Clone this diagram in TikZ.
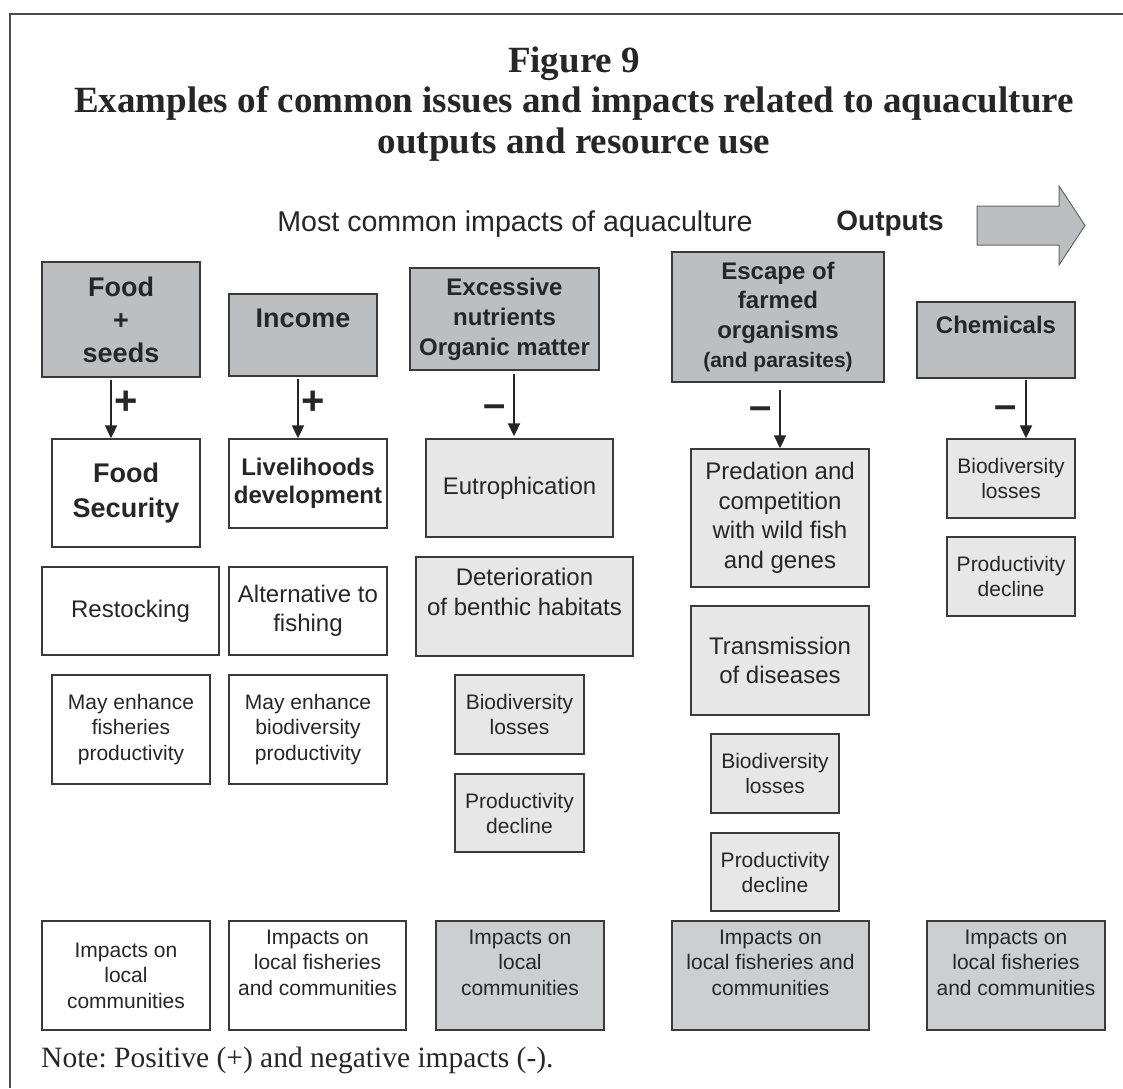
\documentclass[tikz,border=0pt]{standalone}
\usepackage{fontspec}
\setmainfont{Liberation Sans}
\newfontfamily\headserif{Liberation Serif}
\usetikzlibrary{arrows.meta,positioning}
\definecolor{outgray}{HTML}{BDBEC0}
\definecolor{neggray}{HTML}{E7E7E8}
\definecolor{impgray}{HTML}{CDCED0}
\definecolor{edgegray}{HTML}{3A3A3A}
\newcommand{\setfs}[2]{\fontsize{#1}{#2}\selectfont}

\begin{document}
\begin{tikzpicture}[x=1pt, y=-1pt,
    box/.style={draw=edgegray, line width=1.4pt, inner sep=0pt, align=center, text=black!85},
    outbox/.style={box, fill=outgray, font=\bfseries\setfs{24}{30}},
    posbox/.style={box, fill=white, font=\setfs{21}{25.5}},
    negbox/.style={box, fill=neggray, font=\setfs{21}{25}},
    impbox/.style={box, fill=impgray, font=\setfs{21}{25.5}},
    arr/.style={-{Triangle[length=13pt,width=12pt]}, line width=1.9pt, draw=black!85},
    sign/.style={font=\bfseries\setfs{40}{40}, inner sep=0pt, text=black!85}
]
\useasboundingbox (0,0) rectangle (1123,1088);
\draw[line width=2pt, black!70] (10,1088) -- (10,14) -- (1123,14);

% title and header
\node[font=\headserif\bfseries\setfs{37}{40.5}, align=center, text=black!85] (title) at (574,104)
    {Figure 9\\Examples of common issues and impacts related to aquaculture\\outputs and resource use};
\node[font=\setfs{28.6}{30}, text=black!85] (most) at (515,224) {Most common impacts of aquaculture};
\node[font=\bfseries\setfs{28}{30}, text=black!85] (outlbl) at (890,224) {Outputs};
\draw[fill=outgray, draw=black!60, line width=1pt] (977,206) -- (1059,206) -- (1059,186) -- (1085,225.5)
    -- (1059,265) -- (1059,245) -- (977,245) -- cycle;

% outputs
\node[outbox, font=\bfseries\setfs{27}{33}, minimum width=158, minimum height=115] (food) at (121,319.5) {Food\\+\\seeds};
\node[outbox, font=\bfseries\setfs{27}{33}, minimum width=148, minimum height=82] (income) at (303,335) {Income\\{}};
\node[outbox, minimum width=189, minimum height=102] (excess) at (504.5,319) {Excessive\\nutrients\\Organic matter};
\node[outbox, font=\bfseries\setfs{24}{29.5}, minimum width=212, minimum height=130] (escape) at (778,317)
    {Escape of\\farmed\\organisms\\{\setfs{21}{29.5}(and parasites)}};
\node[outbox, minimum width=158, minimum height=76] (chem) at (996,340) {Chemicals\\{}};

% first effects
\node[posbox, font=\bfseries\setfs{27}{35}, minimum width=148, minimum height=108] (fsec) at (126,493) {Food\\Security};
\node[posbox, font=\bfseries\setfs{24}{28}, minimum width=158, minimum height=89] (live) at (308,483.5) {Livelihoods\\development};
\node[negbox, font=\setfs{24}{30}, minimum width=187, minimum height=98] (eutro) at (519.5,488) {Eutrophication};
\node[negbox, font=\setfs{24}{29.5}, minimum width=178, minimum height=138] (pred) at (780,518)
    {Predation and\\competition\\with wild fish\\and genes};
\node[negbox, font=\setfs{21}{24.5}, minimum width=128, minimum height=79] (chbio) at (1011,478.5) {Biodiversity\\losses};

% second effects
\node[posbox, font=\setfs{24}{29}, minimum width=177, minimum height=88] (restock) at (130.5,611) {Restocking};
\node[posbox, font=\setfs{24}{29}, minimum width=158, minimum height=88] (alt) at (308,611) {Alternative to\\fishing};
\node[negbox, font=\setfs{24}{30}, minimum width=217, minimum height=99] (deter) at (524.5,606.5)
    {Deterioration\\of benthic habitats\\{}};
\node[negbox, font=\setfs{24}{29}, minimum width=178, minimum height=109] (trans) at (780,660.5) {Transmission\\of diseases};
\node[negbox, minimum width=128, minimum height=79] (chprod) at (1011,576.5) {Productivity\\decline};

% further effects
\node[posbox, minimum width=158, minimum height=109] (mayfish) at (131,729.5) {May enhance\\fisheries\\productivity};
\node[posbox, minimum width=158, minimum height=109] (maybio) at (308,729.5) {May enhance\\biodiversity\\productivity};
\node[negbox, minimum width=129, minimum height=79] (exbio) at (519.5,714.5) {Biodiversity\\losses};
\node[negbox, minimum width=129, minimum height=78] (exprod) at (519.5,813) {Productivity\\decline};
\node[negbox, minimum width=128, minimum height=79] (esbio) at (775,773.5) {Biodiversity\\losses};
\node[negbox, minimum width=128, minimum height=78] (esprod) at (775,872) {Productivity\\decline};

% impacts
\node[posbox, minimum width=168, minimum height=109] (imp1) at (126,975.5) {Impacts on\\local\\communities};
\node[posbox, minimum width=177, minimum height=109] (imp2) at (317.5,975.5) {Impacts on\\local fisheries\\and communities\\{}};
\node[impbox, minimum width=168, minimum height=109] (imp3) at (520,975.5) {Impacts on\\local\\communities\\{}};
\node[impbox, minimum width=197, minimum height=109] (imp4) at (770.5,975.5) {Impacts on\\local fisheries and\\communities\\{}};
\node[impbox, minimum width=178, minimum height=109] (imp5) at (1016,975.5) {Impacts on\\local fisheries\\and communities\\{}};

\node[font=\headserif\frenchspacing\setfs{29.5}{32}, anchor=west, inner sep=0pt, text=black!85] (note) at (41,1060)
    {Note: Positive (+) and negative impacts (-).};

% arrows
\draw[arr] ([xshift=-10,yshift=-2]food.south) -- node[sign, pos=0.4, xshift=15] {+} ([xshift=-15]fsec.north);
\draw[arr] ([xshift=-5,yshift=-2]income.south) -- node[sign, pos=0.4, xshift=15] {+} ([xshift=-10]live.north);
\draw[arr] ([xshift=9.5,yshift=-3]excess.south) -- node[sign, pos=0.6, xshift=-19] {\textendash} ([xshift=-5.5,yshift=2]eutro.north);
\draw[arr] ([xshift=2,yshift=-7]escape.south) -- node[sign, pos=0.4, xshift=-19] {\textendash} (pred.north);
\draw[arr] ([xshift=30,yshift=-1]chem.south) -- node[sign, pos=0.55, xshift=-20] {\textendash} ([xshift=15]chbio.north);
\end{tikzpicture}
\end{document}
